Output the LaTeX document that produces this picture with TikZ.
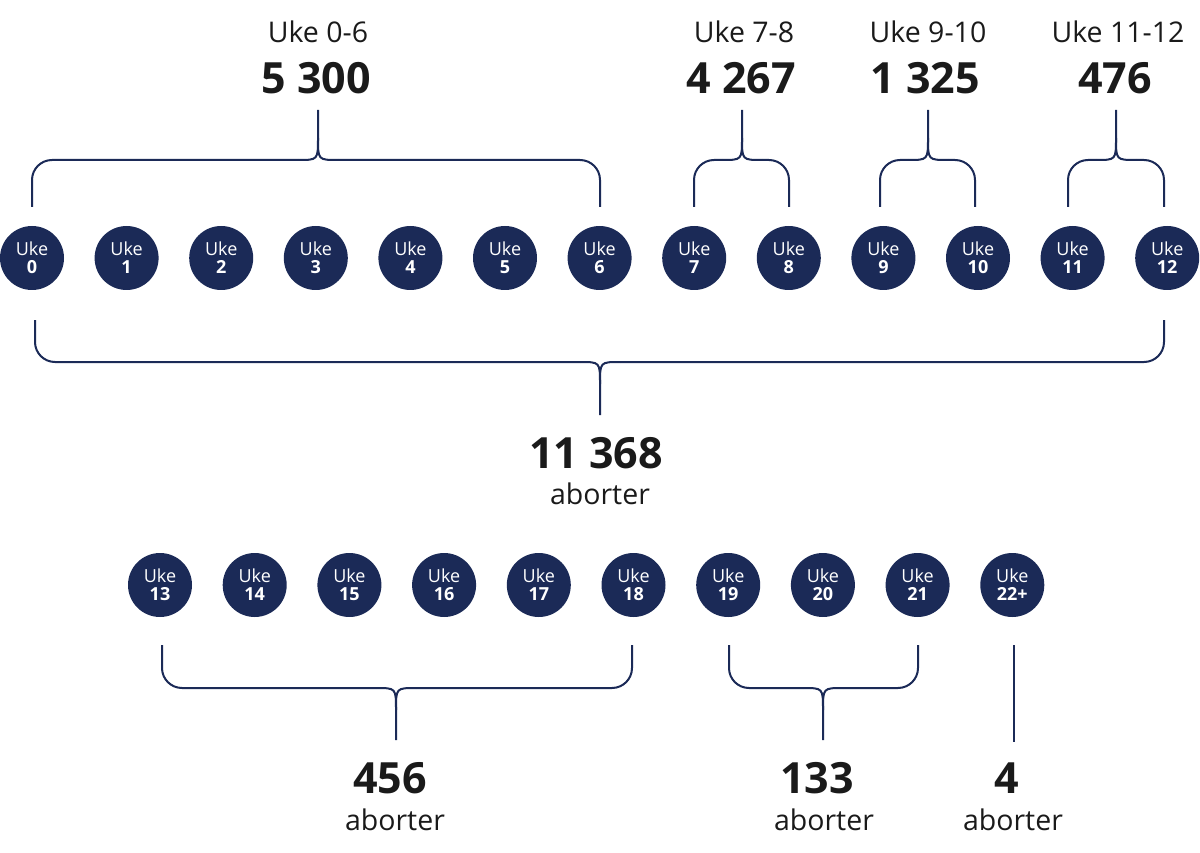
\documentclass[tikz,border=0pt]{standalone}
\usepackage{fontspec}
\setmainfont{Open Sans}
\definecolor{navy}{HTML}{1B2A57}
\definecolor{ink}{HTML}{1A1A1A}
\tikzset{
 wk/.style={circle,fill=navy,minimum size=64pt,inner sep=0pt,text=white,align=center,font=\fontsize{18}{20}\selectfont},
 br/.style={draw=navy,line width=2pt},
 lab/.style={text=ink,font=\fontsize{28.5}{30}\selectfont,inner sep=0pt},
 num/.style={text=ink,font=\fontsize{43}{45}\selectfont\bfseries,inner sep=0pt},
}
\newcommand\brc[7]{%
 \draw[br,rounded corners=20pt] (#1,#4) -- (#1,#5) -- (#3-20,#5);
 \draw[br] (#3-20,#5) .. controls (#3,#5) .. (#3,#6) -- (#3,#7);
 \draw[br,rounded corners=20pt] (#2,#4) -- (#2,#5) -- (#3+20,#5);
 \draw[br] (#3+20,#5) .. controls (#3,#5) .. (#3,#6);
}
\begin{document}
\begin{tikzpicture}[x=1pt,y=-1pt]
\useasboundingbox (0,0) rectangle (1200,853);
\foreach \i in {0,...,12}{
 \node[wk] (t\i) at ({32+94.6*\i},258) {Uke\\[-2pt]\textbf{\i}};
}
\foreach \i/\l in {0/13,1/14,2/15,3/16,4/17,5/18,6/19,7/20,8/21,9/22+}{
 \node[wk] (b\i) at ({160+94.7*\i},585) {Uke\\[-2pt]\textbf{\l}};
}
\brc{32}{600}{318}{207}{160}{138}{110}
\brc{694}{789}{742}{207}{160}{138}{110}
\brc{880}{975}{928}{207}{160}{138}{110}
\brc{1068}{1164}{1116}{207}{160}{138}{110}
\brc{35}{1164}{600}{320}{362}{384}{415}
\brc{162}{632}{396}{645}{688}{710}{740}
\brc{729}{918}{823}{645}{688}{710}{740}
\draw[br] (1014,645) -- (1014,742);
\node[lab] (l1) at (318,32) {Uke 0-6};
\node[num] (n1) at (316,78) {5 300};
\node[lab] (l2) at (744,32) {Uke 7-8};
\node[num] (n2) at (741,78) {4 267};
\node[lab] (l3) at (928,32) {Uke 9-10};
\node[num] (n3) at (925,78) {1 325};
\node[lab] (l4) at (1118,32) {Uke 11-12};
\node[num] (n4) at (1115,78) {476};
\node[num] (n5) at (596,453) {11 368};
\node[lab] (a5) at (600,494) {aborter};
\node[num] (n6) at (390,778) {456};
\node[lab] (a6) at (395,820) {aborter};
\node[num] (n7) at (817,778) {133};
\node[lab] (a7) at (824,820) {aborter};
\node[num] (n8) at (1007,778) {4};
\node[lab] (a8) at (1013,820) {aborter};
\end{tikzpicture}
\end{document}
